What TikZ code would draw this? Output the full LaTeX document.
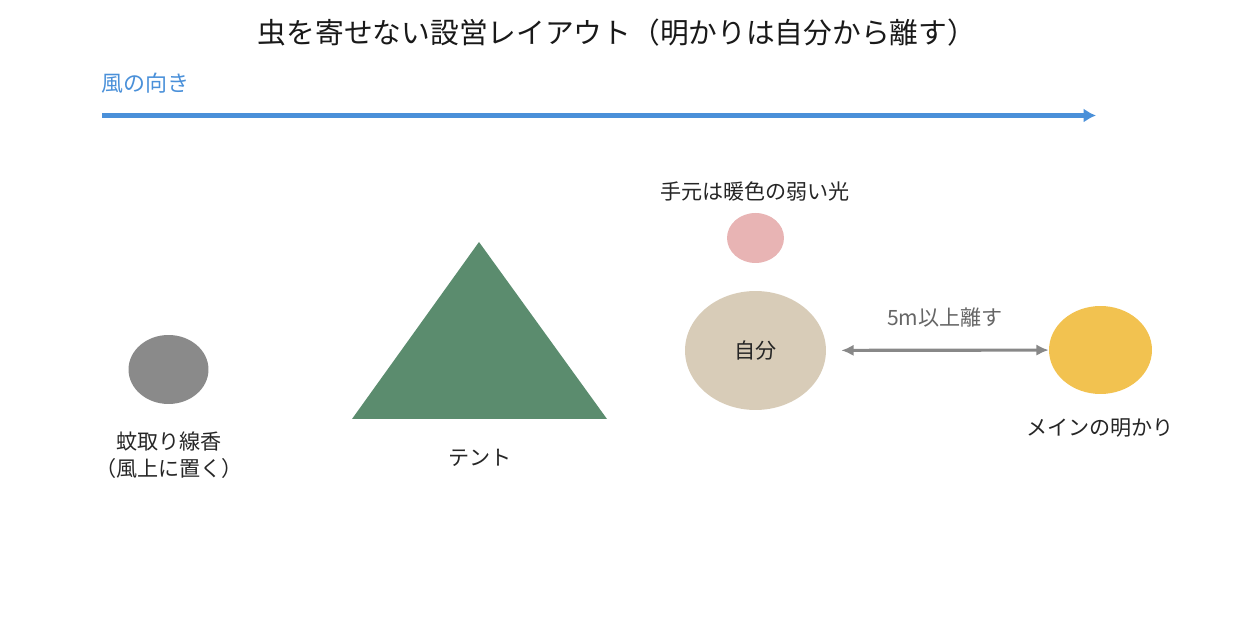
\documentclass[tikz,border=0pt]{standalone}
\usepackage{fontspec}
\setmainfont{Noto Sans CJK JP}
\usetikzlibrary{shapes.geometric,arrows.meta}
\definecolor{windblue}{HTML}{4A90D9}
\definecolor{coilgray}{HTML}{8A8A8A}
\definecolor{tentgreen}{HTML}{5B8C6E}
\definecolor{warmpink}{HTML}{E8B4B4}
\definecolor{mebeige}{HTML}{D8CCB8}
\definecolor{lampyellow}{HTML}{F2C250}
\definecolor{gapgray}{HTML}{888888}
\definecolor{inkgray}{HTML}{666666}
\tikzset{
  blob/.style={ellipse, inner sep=0pt},
  lbl/.style={font=\fontsize{12}{15}\selectfont, text=black!85}
}
\begin{document}
\begin{tikzpicture}[x=0.02cm,y=-0.02cm]
\useasboundingbox (0,0) rectangle (1235,624);

\node[font=\fontsize{16.35}{19}\selectfont, text=black!90] (title) at (617,33) {虫を寄せない設営レイアウト（明かりは自分から離す）};

% wind
\node[lbl, text=windblue, font=\fontsize{12.5}{15}\selectfont, anchor=west] (windlabel) at (95,83) {風の向き};
\coordinate (windstart) at (102,115.5);
\coordinate (windend) at (1096,115.5);
\path[draw=windblue,line width=2.7pt,-{Latex[length=7pt,width=8pt]}] (windstart) -- (windend);

% objects
\node[blob, fill=coilgray, minimum width=1.6cm, minimum height=1.38cm] (coil) at (168.5,369.5) {};
\fill[tentgreen] (479,242) -- (607,419) -- (352,419) -- cycle;
\node[blob, fill=warmpink, minimum width=1.14cm, minimum height=1.0cm] (handlight) at (755.5,238) {};
\node[blob, fill=mebeige, minimum width=2.82cm, minimum height=2.38cm, lbl] (me) at (755.5,350.5) {自分};
\node[blob, fill=lampyellow, minimum width=2.06cm, minimum height=1.76cm] (mainlight) at (1100.5,350) {};

% labels
\node[lbl, align=center] (coillabel) at (169,455) {蚊取り線香\\（風上に置く）};
\node[lbl] (tentlabel) at (480,458) {テント};
\node[lbl] (handlabel) at (755,191) {手元は暖色の弱い光};
\node[lbl] (mainlabel) at (1100,428) {メインの明かり};
\node[lbl, text=inkgray] (gaplabel) at (945,318) {5m以上離す};

\path[draw=gapgray,line width=1.8pt,{Latex[length=7pt,width=6.5pt]}-{Latex[length=7pt,width=6.5pt]},shorten <=0.3cm] (me) -- (mainlight);
\end{tikzpicture}
\end{document}
